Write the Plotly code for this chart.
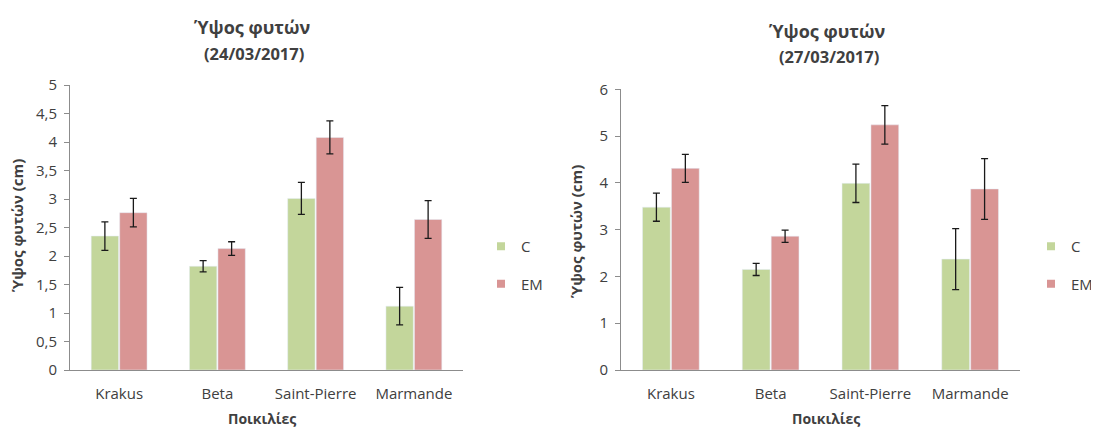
import plotly.graph_objects as go

categories = ["Krakus", "Beta", "Saint-Pierre", "Marmande"]

# 24/03/2017
c_24 = [2.35, 1.82, 3.01, 1.12]
c_24_err = [0.25, 0.10, 0.28, 0.33]
em_24 = [2.76, 2.13, 4.08, 2.64]
em_24_err = [0.25, 0.12, 0.29, 0.33]

# 27/03/2017
c_27 = [3.48, 2.15, 3.99, 2.37]
c_27_err = [0.30, 0.13, 0.41, 0.65]
em_27 = [4.31, 2.86, 5.24, 3.87]
em_27_err = [0.30, 0.13, 0.41, 0.65]

series_names = ["C", "EM"]
GREEN = "#c3d69b"
RED = "#d99594"
FONT = "Open Sans"
TXT = "#404040"

# the page body has an 8px margin; figure fills the rest of the window
OFF = 8
W, H = 1099 - OFF, 427 - OFF

def px(x):
    return (x - OFF) / W

def py(y):
    return 1 - (y - OFF) / H

fig = go.Figure()

def add_pair(c, ce, em, eme, xa, ya, leg):
    eb = lambda e: dict(type="data", array=e, visible=True, color="#1a1a1a", thickness=1.3, width=3.5)
    for vals, errs, name, col in [(c, ce, series_names[0], GREEN), (em, eme, series_names[1], RED)]:
        fig.add_trace(go.Bar(x=categories, y=vals, error_y=eb(errs), name=name, marker_color=col,
                             xaxis=xa, yaxis=ya, showlegend=False))
        fig.add_trace(go.Scatter(x=[None], y=[None], mode="markers", name=name,
                                 marker=dict(symbol="square", size=8, color=col),
                                 xaxis=xa, yaxis=ya, legend=leg, legendgroup=leg + name))

add_pair(c_24, c_24_err, em_24, em_24_err, "x", "y", "legend")
add_pair(c_27, c_27_err, em_27, em_27_err, "x2", "y2", "legend2")

axis_common = dict(showgrid=False, zeroline=False, showline=True, linecolor="#8c8c8c", linewidth=1,
                   automargin=False, tickfont=dict(family=FONT, size=15, color=TXT))

leg_common = dict(xanchor="left", yanchor="top", tracegroupgap=15, itemwidth=30,
                  font=dict(family=FONT, size=15, color=TXT), bgcolor="rgba(0,0,0,0)",
                  traceorder="grouped")

fig.update_layout(
    width=W, height=H,
    margin=dict(l=0, r=0, t=0, b=0, pad=0, autoexpand=False),
    paper_bgcolor="white", plot_bgcolor="white",
    separators=",.",
    barmode="group", bargap=0.42, bargroupgap=0.04,
    font=dict(family=FONT, color=TXT),
    xaxis=dict(domain=[px(70), px(463)], anchor="y", ticks="", ticklabelstandoff=10, **axis_common),
    yaxis=dict(domain=[py(370), py(85)], anchor="x", range=[0, 5], dtick=0.5,
               ticks="outside", ticklen=5, tickcolor="#8c8c8c", ticklabelstandoff=4, **axis_common),
    xaxis2=dict(domain=[px(621), px(1020)], anchor="y2", ticks="", ticklabelstandoff=10, **axis_common),
    yaxis2=dict(domain=[py(370), py(89.3)], anchor="x2", range=[0, 6], dtick=1,
                ticks="outside", ticklen=5, tickcolor="#8c8c8c", ticklabelstandoff=4, **axis_common),
    legend=dict(x=px(481), y=py(230), **leg_common),
    legend2=dict(x=px(1031), y=py(230), **leg_common),
    showlegend=True,
)

ann = []
for cx, date, ty in [(252, "(24/03/2017)", 27), (827, "(27/03/2017)", 31)]:
    ann.append(dict(x=px(cx), y=py(ty), xref="paper", yref="paper", text="<b>Ύψος φυτών</b>",
                    xanchor="center", yanchor="middle", showarrow=False,
                    font=dict(family=FONT, size=18, color=TXT)))
    ann.append(dict(x=px(cx + 2), y=py(ty + 26), xref="paper", yref="paper", text="<b>" + date + "</b>",
                    xanchor="center", yanchor="middle", showarrow=False,
                    font=dict(family=FONT, size=16.5, color=TXT)))
for cx in [262, 826]:
    ann.append(dict(x=px(cx), y=py(418), xref="paper", yref="paper", text="<b>Ποικιλίες</b>",
                    xanchor="center", yanchor="middle", showarrow=False,
                    font=dict(family=FONT, size=14, color=TXT)))
for cx, cy in [(17, 226), (576, 232)]:
    ann.append(dict(x=px(cx), y=py(cy), xref="paper", yref="paper", text="<b>Ύψος φυτών (cm)</b>",
                    xanchor="center", yanchor="middle",
                    textangle=-90, showarrow=False, font=dict(family=FONT, size=15, color=TXT)))
fig.update_layout(annotations=ann)

fig.write_html("out.html")
